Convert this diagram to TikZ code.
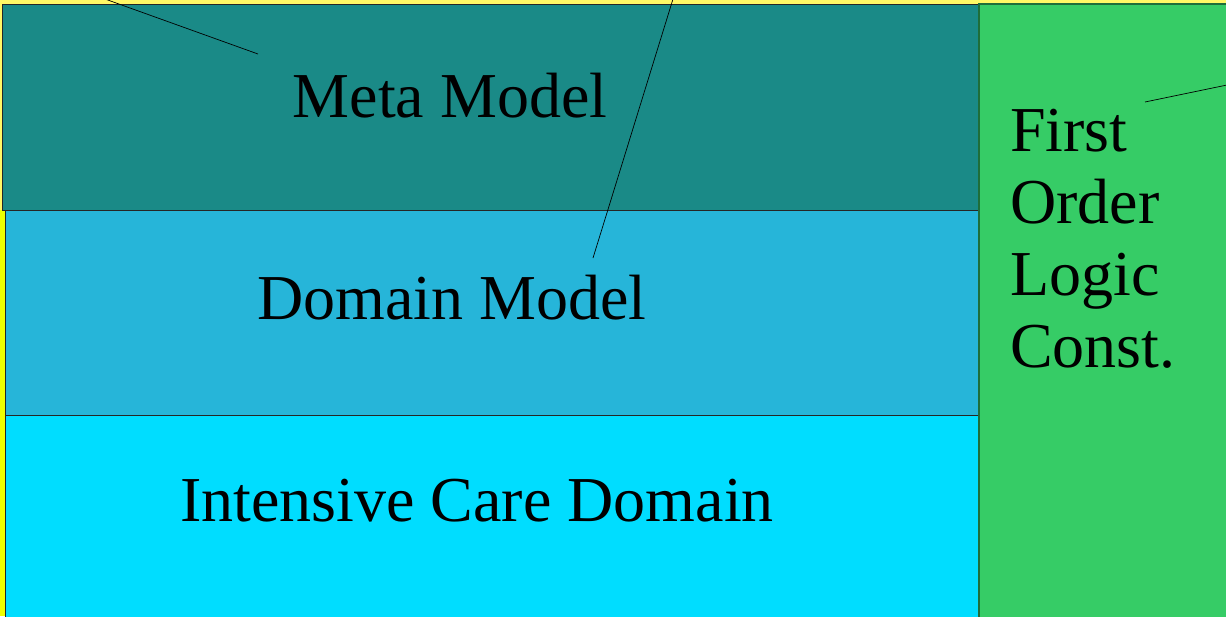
\documentclass[tikz,border=0pt]{standalone}
\usepackage{fontspec}
\setmainfont{Liberation Serif}
\definecolor{bgyellow}{HTML}{FFF866}
\definecolor{edgeyellow}{HTML}{EEFF00}
\definecolor{metateal}{HTML}{1A8A87}
\definecolor{domainblue}{HTML}{26B5D9}
\definecolor{careblue}{HTML}{00DDFF}
\definecolor{logicgreen}{HTML}{36CC66}
\definecolor{greenedge}{HTML}{1E6E3A}
\tikzset{
  layer/.style={draw=black!85, line width=0.8pt},
  big/.style={font=\fontsize{64}{72}\selectfont, inner sep=0pt},
  leader/.style={draw=black, line width=0.7pt}
}
\begin{document}
\begin{tikzpicture}[x=1pt,y=-1pt]
\useasboundingbox (0,0) rectangle (1226,616);
% background
\fill[bgyellow] (0,0) rectangle (1226,616);
\fill[edgeyellow] (0,210) rectangle (5,616);
% stacked layers
\filldraw[layer, fill=metateal] (2,4) rectangle (978,210);
\filldraw[layer, fill=domainblue] (5,210) rectangle (978,415);
\filldraw[layer, fill=careblue] (5,415) rectangle (978,620);
% constraint column
\filldraw[draw=greenedge, line width=1.6pt, fill=logicgreen] (979,4) rectangle (1230,620);
% labels
\node[big, anchor=base] (meta) at (450,117) {Meta Model};
\node[big, anchor=base] (domain) at (452,319) {Domain Model};
\node[big, anchor=base] (care) at (477,521) {Intensive Care Domain};
\node[big, anchor=base west] (l1) at (1010,151) {First};
\node[big, anchor=base west] (l2) at (1010,223) {Order};
\node[big, anchor=base west] (l3) at (1010,295) {Logic};
\node[big, anchor=base west] (l4) at (1010,367) {Const.};
% leader lines
\coordinate (a0) at (105,-1);
\coordinate (a1) at (258,54);
\coordinate (b0) at (673,-1);
\coordinate (b1) at (593,258);
\coordinate (c0) at (1227,85);
\coordinate (c1) at (1145,102);
\draw[leader] (a0) -- (a1);
\draw[leader] (b0) -- (b1);
\draw[leader] (c0) -- (c1);
\end{tikzpicture}
\end{document}
